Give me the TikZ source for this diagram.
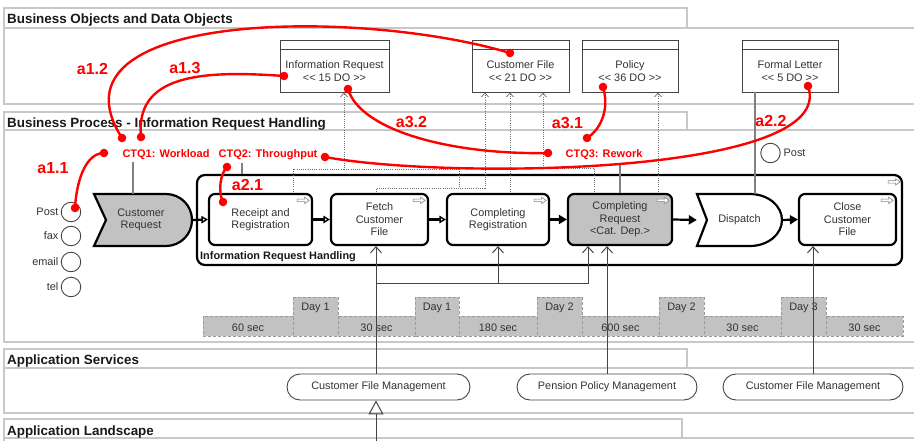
\documentclass[tikz,border=0pt]{standalone}
\usepackage{fontspec}
\newfontfamily\lsans{Liberation Sans}
\usetikzlibrary{arrows.meta,calc}

\definecolor{laneline}{HTML}{C8C8C8}
\definecolor{inktext}{HTML}{333333}
\definecolor{annot}{HTML}{FF0000}
\definecolor{shade}{HTML}{C2C2C2}
\definecolor{shadeedge}{HTML}{9A9A9A}
\definecolor{wire}{HTML}{444444}
\definecolor{dotwire}{HTML}{6E6E6E}
\definecolor{stem}{HTML}{808080}

\newcommand\bodyfont{\lsans\fontsize{10.9}{12.5}\selectfont}

\begin{document}
\begin{tikzpicture}[x=1pt,y=-1pt,
  every node/.style={font=\bodyfont, text=inktext},
  lane/.style={draw=laneline, line width=1.3pt},
  lanetitle/.style={anchor=base west, inner sep=0pt, text=black!90, font=\lsans\bfseries\fontsize{13.4}{15}\selectfont},
  dobj/.style={draw=wire, line width=0.9pt, minimum height=52pt, inner sep=0pt},
  dtext/.style={align=center, inner sep=0pt},
  procbox/.style={draw=black, line width=2.2pt, rounded corners=6pt, fill=white, minimum height=51pt, align=center, inner sep=1pt},
  evtext/.style={align=center, inner sep=0pt, minimum height=52pt},
  evshape/.style={draw=black, line width=2.2pt, line join=miter},
  flow/.style={draw=black, line width=2.2pt},
  flowopen/.style={flow, -{Triangle[open, length=6.5pt, width=7.5pt, line width=1.4pt]}},
  flowfill/.style={flow, -{Triangle[length=8pt, width=9pt]}},
  dotline/.style={draw=dotwire, line width=0.7pt, dash pattern=on 1pt off 1.2pt},
  dataacc/.style={dotline, -{Straight Barb[length=4pt, width=7pt, line width=0.7pt]}},
  svc/.style={draw=wire, line width=1pt, -{Straight Barb[length=6pt, width=11pt, line width=1pt]}},
  realize/.style={draw=wire, line width=1pt, -{Triangle[open, length=14pt, width=15pt, line width=1pt]}},
  pill/.style={draw=wire, line width=0.9pt, rounded corners=13pt, minimum height=26pt, inner sep=0pt},
  stemline/.style={draw=stem, line width=1.4pt},
  chan/.style={circle, draw=wire, line width=0.9pt, minimum size=19.5pt, inner sep=0pt},
  chanlabel/.style={anchor=east, inner sep=0pt},
  tbox/.style={draw=shadeedge, fill=shade, line width=0.8pt, dash pattern=on 3pt off 2pt},
  ttext/.style={anchor=base, inner sep=0pt},
  annotline/.style={draw=annot, line width=2.4pt},
  annotlabel/.style={anchor=base, text=annot, inner sep=0pt, font=\lsans\bfseries\fontsize{16}{18}\selectfont},
  ctqlabel/.style={anchor=base, text=annot, inner sep=0pt, font=\lsans\bfseries\fontsize{11}{13}\selectfont},
  pics/runicon/.style={code={
    \draw[draw=stem, fill=white, line width=0.6pt, line join=miter]
      (-6,-1.3) -- (1.5,-1.3) -- (1.5,-3.2) -- (6,0) -- (1.5,3.2) -- (1.5,1.3) -- (-6,1.3) -- cycle;}}
]
\useasboundingbox (0,0) rectangle (914,441);
\clip (0,0) rectangle (914,441);

% ---------- swimlanes ----------
\draw[lane] (4,28) -- (4,8) -- (687,8) -- (687,28);
\draw[lane] (916,28) -- (4,28) -- (4,104) -- (916,104);
\node[lanetitle] (lt1) at (7,23.5) {Business Objects and Data Objects};

\draw[lane] (4,130) -- (4,112) -- (687,112) -- (687,130);
\draw[lane] (916,130) -- (4,130) -- (4,342) -- (916,342);
\node[lanetitle] (lt2) at (7,127.5) {Business Process - Information Request Handling};

\draw[lane] (4,368) -- (4,349) -- (687,349) -- (687,368);
\draw[lane] (916,368) -- (4,368) -- (4,413) -- (916,413);
\node[lanetitle] (lt3) at (7,364.5) {Application Services};

\draw[lane] (4,438) -- (4,419) -- (682,419) -- (682,438);
\draw[lane] (916,438) -- (4,438) -- (4,446);
\node[lanetitle] (lt4) at (7,435.5) {Application Landscape};

% ---------- time line ----------
\draw[tbox] (203,316) rectangle (293,336);
\draw[tbox] (293,297) rectangle (338,336);
\draw[tbox] (338,316) rectangle (415,336);
\draw[tbox] (415,297) rectangle (459,336);
\draw[tbox] (459,316) rectangle (537,336);
\draw[tbox] (537,297) rectangle (582,336);
\draw[tbox] (582,316) rectangle (659,336);
\draw[tbox] (659,297) rectangle (704,336);
\draw[tbox] (704,316) rectangle (781,336);
\draw[tbox] (781,297) rectangle (826,336);
\draw[tbox] (826,316) rectangle (903,336);
\node[ttext] (s1) at (248,331) {60 sec};
\node[ttext] (g1) at (315.5,310.5) {Day 1};
\node[ttext] (s2) at (376.5,331) {30 sec};
\node[ttext] (g2) at (437,310.5) {Day 1};
\node[ttext] (s3) at (498,331) {180 sec};
\node[ttext] (g3) at (559.5,310.5) {Day 2};
\node[ttext] (s4) at (620.5,331) {600 sec};
\node[ttext] (g4) at (681.5,310.5) {Day 2};
\node[ttext] (s5) at (742.5,331) {30 sec};
\node[ttext] (g5) at (803.5,310.5) {Day 3};
\node[ttext] (s6) at (864.5,331) {30 sec};

% ---------- process container ----------
\node[draw=black, line width=2.2pt, rounded corners=8pt, minimum width=705pt, minimum height=90pt, inner sep=0pt] (irh) at (549.5,220) {};
\node[anchor=base west, inner sep=0pt, text=black!90, font=\lsans\bfseries\fontsize{10.9}{12.5}\selectfont] (irhl) at (200,259) {Information Request Handling};
\pic at ($(irh.north east)+(-9,8)$) {runicon};

% ---------- data objects ----------
\node[dobj, minimum width=109pt] (ir) at (334.5,66) {};
\node[dobj, minimum width=97pt] (cf) at (520.5,66) {};
\node[dobj, minimum width=96pt] (pol) at (630,66) {};
\node[dobj, minimum width=96pt] (fl) at (790,66) {};
\foreach \d in {ir,cf,pol,fl}
  \draw[draw=wire, line width=0.9pt] ($(\d.north west)+(0,10)$) -- ($(\d.north east)+(0,10)$);
\node[dtext] (irt) at (334.5,71) {Information Request\\<< 15 DO >>};
\node[dtext] (cft) at (520.5,71) {Customer File\\<< 21 DO >>};
\node[dtext] (polt) at (630,71) {Policy\\<< 36 DO >>};
\node[dtext] (flt) at (790,71) {Formal Letter\\<< 5 DO >>};

% ---------- data access (dotted) ----------
\coordinate (b1) at (293,169);
\coordinate (b2) at (344,169);
\coordinate (b3) at (459,169);
\coordinate (b6) at (376,188);
\coordinate (b5) at (485,188);
\coordinate (b7) at (510,130);
\coordinate (b8) at (594,168);
\coordinate (b9) at (543,168);
\coordinate (b10) at (658,130);
\draw[dataacc] (b1 |- 0,194) -- (b1) -- (b2) -- (b2 |- ir.south);
\draw[dotline] (b2) -- (b3) -- (b3 |- b6);
\draw[dataacc] (b6 |- 0,194) -- (b6) -- (b5) -- (b5 |- cf.south);
\draw[dataacc] (b7 |- 0,194) -- (b7 |- cf.south);
\draw[dataacc] (b8 |- 0,194) -- (b8) -- (b9) -- (b9 |- cf.south);
\draw[dataacc] (b10 |- 0,194) -- (b10 |- pol.south);

% ---------- events ----------
\draw[evshape, fill=shade] (94,194) -- (166,194) .. controls (180.4,194) and (192,205.6) .. (192,220)
  .. controls (192,234.4) and (180.4,246) .. (166,246) -- (94,246) -- (106,220) -- cycle;
\node[evtext, minimum width=102pt] (cr) at (141,220) {Customer\\Request};

\draw[evshape, fill=white] (697,194) -- (750,194) .. controls (767.7,194) and (782,205.6) .. (782,220)
  .. controls (782,234.4) and (767.7,246) .. (750,246) -- (697,246) -- (707,220) -- cycle;
\node[evtext, minimum width=85pt] (dsp) at (739.5,220) {Dispatch};

% ---------- process steps ----------
\node[procbox, minimum width=103pt] (rr) at (260.5,219.5) {Receipt and\\Registration};
\node[procbox, minimum width=97pt] (fcf) at (379.5,219.5) {Fetch\\Customer\\File};
\node[procbox, minimum width=102pt] (creg) at (498,219.5) {Completing\\Registration};
\node[procbox, minimum width=104pt, fill=shade] (creq) at (620,219.5) {Completing\\Request\\<Cat. Dep.>};
\node[procbox, minimum width=97pt] (ccf) at (847.5,219.5) {Close\\Customer\\File};
\foreach \p in {rr,fcf,creg,creq,ccf}
  \pic at ($(\p.north east)+(-10,7.5)$) {runicon};

\draw[flowopen] (cr.east) -- (rr.west);
\draw[flowopen] (rr) -- (fcf);
\draw[flowopen] (fcf) -- (creg);
\draw[flowfill] (creg) -- (creq);
\draw[flowfill] (creq.east) -- (dsp.west);
\draw[flowfill] (dsp.east) -- (ccf.west);

% ---------- channels ----------
\node[chan] (ch1) at (71,212) {};
\node[chan] (ch2) at (71,236) {};
\node[chan] (ch3) at (71,262) {};
\node[chan] (ch4) at (71,287) {};
\node[chanlabel] (cl1) at (58.5,211.5) {Post};
\node[chanlabel] (cl2) at (58.5,235.5) {fax};
\node[chanlabel] (cl3) at (58.5,261.5) {email};
\node[chanlabel] (cl4) at (58.5,286.5) {tel};

\node[chan] (postd) at (770.5,153) {};
\node[anchor=west, inner sep=0pt] (postdl) at (783.5,153) {Post};

% ---------- CTQ stems and letter link ----------
\coordinate (q1) at (133,162);
\coordinate (q2) at (242,163);
\coordinate (q3) at (620,163);
\coordinate (q4) at (755,130);
\draw[stemline] (q1) -- (q1 |- cr.north);
\draw[stemline] (q2) -- (q2 |- irh.north);
\draw[stemline] (q3) -- (creq.north);
\draw[stemline] (q4 |- fl.south) -- (q4 |- dsp.north);

% ---------- application services ----------
\node[pill, minimum width=183pt] (cfm1) at (378.5,387) {Customer File Management};
\node[pill, minimum width=180pt] (ppm) at (607,387) {Pension Policy Management};
\node[pill, minimum width=180pt] (cfm2) at (813,387) {Customer File Management};

\coordinate (j1) at (376,283);
\coordinate (j2) at (588,283);
\draw[svc] (j1 |- cfm1.north) -- (j1 |- fcf.south);
\draw[svc] (j1) -- (j2) -- (j2 |- creq.south);
\draw[svc] (j1 -| creg.south) -- (creg.south);
\draw[svc] (ppm.north) -- (ppm.north |- creq.south);
\draw[svc] (cfm2.north) -- (cfm2.north |- ccf.south);
\coordinate (land) at (376,446);
\draw[realize] (land) -- (land |- cfm1.south);

% ---------- CTQ annotations ----------
\node[ctqlabel] (ctq1) at (166,157.5) {CTQ1: Workload};
\node[ctqlabel] (ctq2) at (268,157.5) {CTQ2: Throughput};
\node[ctqlabel] (ctq3) at (604,157.5) {CTQ3: Rework};

\coordinate (d11a) at (104,153);
\coordinate (d11b) at (75,208);
\coordinate (d12a) at (122,138);
\coordinate (d12b) at (510,53);
\coordinate (d13a) at (141,137);
\coordinate (d13b) at (284,76);
\coordinate (d21a) at (227,167);
\coordinate (d21b) at (223,202);
\coordinate (d22a) at (325,157);
\coordinate (d22b) at (808,86);
\coordinate (d31a) at (603,87);
\coordinate (d31b) at (587,138);
\coordinate (d32a) at (348,89);
\coordinate (d32b) at (548,153);

\draw[annotline] (d11a) .. controls (88,153) and (77,175) .. (d11b);
\draw[annotline] (d12a) .. controls (40,10) and (360,8) .. (d12b);
\draw[annotline] (d13a) .. controls (135,75) and (200,70) .. (d13b);
\draw[annotline] (d21a) .. controls (220,174) and (218,192) .. (d21b);
\draw[annotline] (d22a) .. controls (450,180) and (840,175) .. (d22b);
\draw[annotline] (d31a) .. controls (610,110) and (600,130) .. (d31b);
\draw[annotline] (d32a) .. controls (360,130) and (450,155) .. (d32b);
\foreach \p in {d11a,d11b,d12a,d12b,d13a,d13b,d21a,d21b,d22a,d22b,d31a,d31b,d32a,d32b}
  \fill[annot] (\p) circle[radius=4.3pt];

\node[annotlabel] (a11) at (53,174) {a1.1};
\node[annotlabel] (a12) at (92.5,75) {a1.2};
\node[annotlabel] (a13) at (185,74) {a1.3};
\node[annotlabel] (a21) at (247.5,190.5) {a2.1};
\node[annotlabel] (a22) at (771,127) {a2.2};
\node[annotlabel] (a31) at (567.5,129) {a3.1};
\node[annotlabel] (a32) at (411.5,127.5) {a3.2};
\end{tikzpicture}
\end{document}
